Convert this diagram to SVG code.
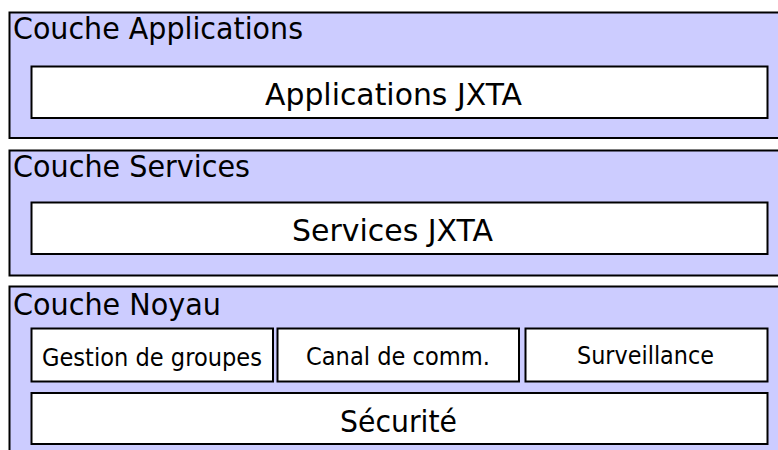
<svg xmlns="http://www.w3.org/2000/svg" width="778" height="450" viewBox="0 0 778 450">
<style>
.layer{fill:#CCCCFF;stroke:#000;stroke-width:2}
.box{fill:#FFFFFF;stroke:#000;stroke-width:2}
text{font-family:"DejaVu Sans","Liberation Sans",sans-serif;fill:#000}
.big{font-size:30px}
.small{font-size:24px}
</style>
<rect width="778" height="450" fill="#FFFFFF"/>
<g id="layer-applications">
<rect class="layer" x="9.5" y="12.5" width="780" height="125.5"/>
<text class="big" x="13" y="38.5" textLength="290" lengthAdjust="spacingAndGlyphs">Couche Applications</text>
</g>
<g id="applications-jxta">
<rect class="box" x="31.5" y="66.5" width="736" height="51.5"/>
<text class="big" x="265" y="104.5" textLength="257" lengthAdjust="spacingAndGlyphs">Applications JXTA</text>
</g>
<g id="layer-services">
<rect class="layer" x="9.5" y="150.5" width="780" height="125"/>
<text class="big" x="13" y="177" textLength="237" lengthAdjust="spacingAndGlyphs">Couche Services</text>
</g>
<g id="services-jxta">
<rect class="box" x="31.5" y="202.5" width="736" height="51.5"/>
<text class="big" x="292" y="240.5" textLength="201" lengthAdjust="spacingAndGlyphs">Services JXTA</text>
</g>
<g id="layer-noyau">
<rect class="layer" x="9.5" y="286.5" width="780" height="180"/>
<text class="big" x="13" y="315" textLength="208" lengthAdjust="spacingAndGlyphs">Couche Noyau</text>
</g>
<g id="gestion-groupes">
<rect class="box" x="31.5" y="328.5" width="241.5" height="53"/>
<text class="small" x="42" y="365.5" textLength="220" lengthAdjust="spacingAndGlyphs">Gestion de groupes</text>
</g>
<g id="canal-comm">
<rect class="box" x="277.5" y="328.5" width="241.5" height="53"/>
<text class="small" x="306" y="365" textLength="184" lengthAdjust="spacingAndGlyphs">Canal de comm.</text>
</g>
<g id="surveillance">
<rect class="box" x="525.5" y="328.5" width="242" height="53"/>
<text class="small" x="577" y="364" textLength="137" lengthAdjust="spacingAndGlyphs">Surveillance</text>
</g>
<g id="securite">
<rect class="box" x="31.5" y="393" width="736" height="51"/>
<text class="big" x="340" y="431.5" textLength="117" lengthAdjust="spacingAndGlyphs">Sécurité</text>
</g>
<g id="connectors"></g>
</svg>
